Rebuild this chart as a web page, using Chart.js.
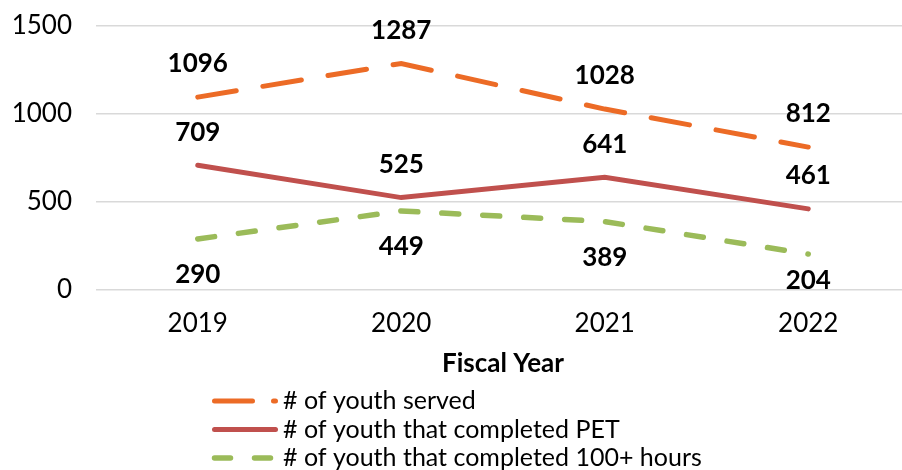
<!DOCTYPE html>
<html>
<head>
<meta charset="utf-8">
<script src="https://cdn.jsdelivr.net/npm/chart.js@4.4.0/dist/chart.umd.min.js"></script>
<style>
  body { margin: 0; background: #fff; overflow: hidden; }
  #wrap { width: 902px; height: 470px; overflow: hidden; }
</style>
</head>
<body>
<div id="wrap"><canvas id="mycanvas" width="912" height="470"></canvas></div>
<script>
var years = ["2019", "2020", "2021", "2022"];
var youthServed = [1096, 1287, 1028, 812];
var completedPET = [709, 525, 641, 461];
var completed100 = [290, 449, 389, 204];
var yTicks = [0, 500, 1000, 1500];

var FONT = "Lato, 'Noto Sans', sans-serif";

// values above or below the line, like the excel labels
var valueLabels = {
	id: "valueLabels",
	afterDatasetsDraw: function(chart) {
		var ctx = chart.ctx;
		var area = chart.chartArea;
		ctx.save();
		ctx.font = "bold 26px " + FONT;
		ctx.fillStyle = "#000";
		ctx.textAlign = "center";
		ctx.textBaseline = "middle";
		chart.data.datasets.forEach(function(ds, i) {
			var meta = chart.getDatasetMeta(i);
			meta.data.forEach(function(pt, j) {
				var y = ds.labelPos === "below" ? pt.y + 36 : pt.y - 33;
				if (y > area.bottom - 9) y = area.bottom - 9;
				ctx.fillText(ds.data[j], pt.x, y);
			});
		});
		ctx.restore();
	}
};

// legend stacked in one column under the axis title
var stackedLegend = {
	id: "stackedLegend",
	afterDraw: function(chart) {
		var ctx = chart.ctx;
		ctx.save();
		chart.data.datasets.forEach(function(ds, i) {
			var y = 401 + i * 28.5;
			ctx.beginPath();
			ctx.strokeStyle = ds.borderColor;
			ctx.lineWidth = ds.borderWidth;
			ctx.lineCap = "round";
			ctx.setLineDash(ds.legendDash || []);
			ctx.moveTo(214.5, y);
			ctx.lineTo(275.5, y);
			ctx.stroke();
			ctx.setLineDash([]);
			ctx.font = "25px " + FONT;
			ctx.fillStyle = "#000";
			ctx.textAlign = "left";
			ctx.textBaseline = "middle";
			ctx.fillText(ds.label, 283, y);
		});
		ctx.restore();
	}
};

var chartdata = {
	labels: years,
	datasets: [
		{
			label: "# of youth served",
			data: youthServed,
			borderColor: "#EC6B26",
			borderWidth: 5,
			borderDash: [39, 27],
			legendDash: [38, 21],
			borderCapStyle: "round",
			labelPos: "above"
		},
		{
			label: "# of youth that completed PET",
			data: completedPET,
			borderColor: "#C0504D",
			borderWidth: 5,
			borderCapStyle: "round",
			labelPos: "above"
		},
		{
			label: "# of youth that completed 100+ hours",
			data: completed100,
			borderColor: "#9BBB59",
			borderWidth: 5.5,
			borderDash: [17, 24],
			legendDash: [16, 24],
			borderCapStyle: "round",
			labelPos: "below"
		}
	]
};

var ctx = document.getElementById("mycanvas");

var LineGraph = new Chart(ctx, {
	type: "line",
	data: chartdata,
	options: {
		responsive: false,
		animation: false,
		layout: { padding: { top: 26, right: 2, bottom: 90, left: 0 } },
		elements: {
			line: { tension: 0, fill: false },
			point: { radius: 0, hoverRadius: 0 }
		},
		plugins: {
			legend: { display: false },
			tooltip: { enabled: false }
		},
		scales: {
			x: {
				offset: true,
				grid: { display: false, drawTicks: false, offset: true },
				border: { display: false },
				ticks: { color: "#000", font: { family: FONT, size: 26 }, padding: 18 },
				title: {
					display: true,
					text: "Fiscal Year",
					color: "#000",
					font: { family: FONT, size: 26, weight: "bold" },
					padding: { top: 0, bottom: 1 }
				},
				afterFit: function(scale) {
					scale.height = 90;
					scale.paddingLeft = 0;
					scale.paddingRight = 0;
				}
			},
			y: {
				min: 0,
				max: 1500,
				afterBuildTicks: function(scale) {
					scale.ticks = yTicks.map(function(v) { return { value: v }; });
				},
				grid: { color: "#d9d9d9", lineWidth: 1.5, drawTicks: false },
				border: { display: false },
				ticks: {
					color: "#000",
					font: { family: FONT, size: 26 },
					padding: 24,
					callback: function(v) { return String(v); }
				},
				afterFit: function(scale) {
					scale.width = 96;
					scale.paddingTop = 0;
					scale.paddingBottom = 0;
				}
			}
		}
	},
	plugins: [valueLabels, stackedLegend]
});
</script>
</body>
</html>
